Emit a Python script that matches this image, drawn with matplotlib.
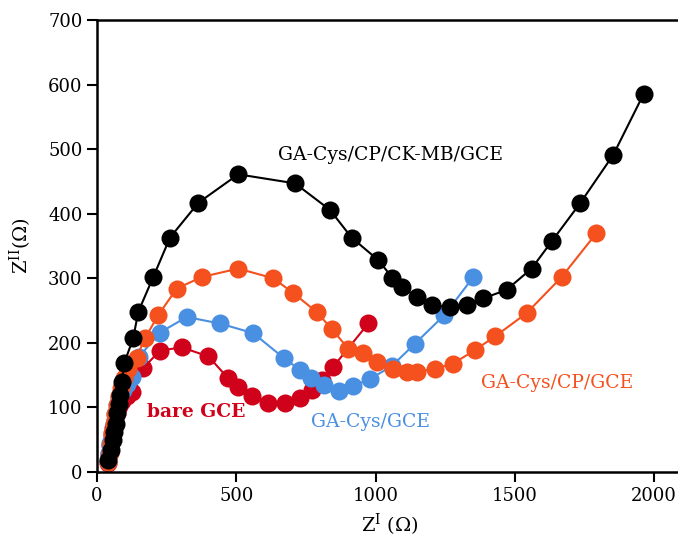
import matplotlib
matplotlib.use("Agg")
import matplotlib.pyplot as plt

# Nyquist data (Z' and Z'' in ohm)
bare_x = [38, 43, 48, 53, 58, 64, 70, 78, 90, 108, 124, 166, 226, 304, 400,
          471, 507, 555, 615, 675, 729, 771, 806, 848, 974]
bare_y = [14, 28, 42, 55, 68, 80, 92, 102, 110, 117, 124, 161, 188, 193, 179,
          145, 132, 117, 107, 107, 114, 127, 142, 163, 230]

cys_x = [38, 43, 48, 54, 60, 66, 72, 80, 92, 108, 124, 150, 226, 322, 441,
         561, 672, 729, 767, 815, 868, 920, 980, 1058, 1142, 1247, 1351]
cys_y = [16, 30, 45, 60, 75, 90, 104, 116, 127, 137, 147, 178, 216, 240, 230,
         215, 176, 158, 145, 134, 126, 133, 144, 164, 199, 243, 302]

cp_x = [40, 45, 50, 55, 60, 66, 72, 78, 86, 97, 112, 142, 172, 220, 286, 376,
        507, 633, 705, 788, 842, 902, 956, 1004, 1061, 1112, 1147, 1213, 1279,
        1357, 1429, 1542, 1668, 1793]
cp_y = [15, 30, 45, 60, 75, 90, 104, 117, 130, 145, 160, 177, 207, 243, 284,
        302, 315, 300, 277, 248, 222, 191, 184, 171, 159, 155, 155, 160, 168,
        189, 210, 246, 302, 370]

ckmb_x = [41, 49, 56, 62, 67, 73, 79, 83, 89, 98, 130, 148, 202, 262, 364, 507,
          711, 836, 914, 1010, 1060, 1094, 1147, 1201, 1267, 1327, 1387, 1470,
          1560, 1632, 1734, 1853, 1963]
ckmb_y = [19, 34, 50, 62, 75, 91, 106, 119, 140, 169, 207, 248, 302, 363, 417,
          461, 447, 406, 363, 328, 301, 287, 271, 258, 256, 258, 269, 282, 315,
          357, 416, 491, 586]

RED = "#d0021b"
BLUE = "#4a90e2"
ORANGE = "#f4511e"
BLACK = "#000000"

plt.rcParams["font.family"] = "DejaVu Serif"
plt.rcParams["mathtext.fontset"] = "dejavuserif"

fig = plt.figure(figsize=(6.78, 5.42), dpi=100)
ax = fig.add_axes([97 / 678, 1 - 472 / 542, 585 / 678, 452 / 542])

series = [
    (bare_x, bare_y, RED),
    (cys_x, cys_y, BLUE),
    (cp_x, cp_y, ORANGE),
    (ckmb_x, ckmb_y, BLACK),
]
for xs, ys, c in series:
    ax.plot(xs, ys, "-o", color=c, lw=1.5, ms=13, mec="none", clip_on=False)

ax.text(1052, 491, "GA-Cys/CP/CK-MB/GCE", color=BLACK, fontsize=13.5,
        ha="center", va="center")
ax.text(355, 93, "bare GCE", color=RED, fontsize=13.5, ha="center",
        va="center", fontweight="bold")
ax.text(980, 77, "GA-Cys/GCE", color=BLUE, fontsize=13.5, ha="center",
        va="center")
ax.text(1651, 138, "GA-Cys/CP/GCE", color=ORANGE, fontsize=13.5, ha="center",
        va="center")

ax.set_xlim(0, 2100)
ax.set_ylim(0, 700)
ax.set_xticks([0, 500, 1000, 1500, 2000])
ax.set_yticks(range(0, 701, 100))
ax.tick_params(direction="out", length=7, width=1.5, labelsize=13)
for s in ax.spines.values():
    s.set_linewidth(1.8)
ax.spines["right"].set_visible(False)

ax.set_xlabel(r"Z$^{\mathrm{I}}$ ($\Omega$)", fontsize=14, labelpad=5)
ax.set_ylabel(r"Z$^{\mathrm{II}}$($\Omega$)", fontsize=14, labelpad=10)

fig.savefig("out.png", dpi=100)
